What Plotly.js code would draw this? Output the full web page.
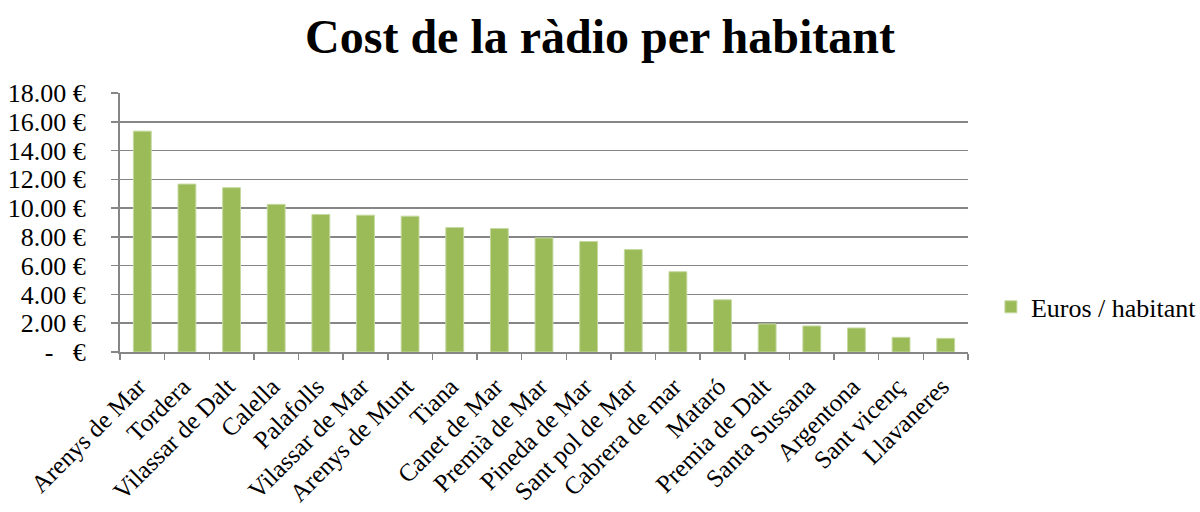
<!DOCTYPE html>
<html>
<head>
<meta charset="utf-8">
<script src="https://cdn.plot.ly/plotly-3.0.1.min.js"></script>
<style>html,body{margin:0;padding:0;background:#fff;}#chart{width:1200px;height:512px;}</style>
</head>
<body>
<div id="chart"></div>
<script>
const categories = ["Arenys de Mar","Tordera","Vilassar de Dalt","Calella","Palafolls","Vilassar de Mar","Arenys de Munt","Tiana","Canet de Mar","Premià de Mar","Pineda de Mar","Sant pol de Mar","Cabrera de mar","Mataró","Premia de Dalt","Santa Sussana","Argentona","Sant vicenç","Llavaneres"];
const eurosPerHabitant = [15.35,11.67,11.42,10.26,9.56,9.51,9.44,8.65,8.58,7.93,7.68,7.12,5.58,3.63,1.95,1.81,1.67,1.02,0.95];
const yTickVals = [0,2,4,6,8,10,12,14,16,18];
const yTickText = ["-\u00a0\u00a0\u00a0€","2.00 €","4.00 €","6.00 €","8.00 €","10.00 €","12.00 €","14.00 €","16.00 €","18.00 €"];

const font = "Liberation Serif, Times New Roman, serif";
const trace = {
  type: 'bar',
  x: categories,
  y: eurosPerHabitant,
  name: 'Euros / habitant',
  marker: {color: '#9BBB59', line: {color: '#c5d9a0', width: 1}},
  hoverinfo: 'x+y'
};
const layout = {
  width: 1200, height: 512,
  paper_bgcolor: '#fff', plot_bgcolor: '#fff',
  margin: {l: 120, r: 232, t: 93, b: 160, autoexpand: false},
  title: {text: '<b>Cost de la ràdio per habitant</b>', font: {family: font, size: 48, color: '#000'}, x: 0.5, xanchor: 'center', y: 0.93, yanchor: 'middle'},
  bargap: 0.6,
  showlegend: true,
  legend: {x: 1.027, xanchor: 'left', y: 0.174, yanchor: 'middle', font: {family: font, size: 26, color: '#000'}, itemwidth: 30, bgcolor: 'rgba(0,0,0,0)'},
  xaxis: {
    type: 'category',
    tickangle: -45,
    tickfont: {family: font, size: 25, color: '#000'},
    ticklabelstandoff: 8,
    ticklabelshift: -4,
    showline: true, linecolor: '#868686', linewidth: 2,
    ticks: 'outside', tickson: 'boundaries', ticklen: 6, tickcolor: '#868686', tickwidth: 1.5,
    showgrid: false
  },
  yaxis: {
    range: [0, 18],
    tickvals: yTickVals, ticktext: yTickText,
    tickfont: {family: font, size: 26, color: '#000'},
    ticklabelstandoff: 20,
    showline: true, linecolor: '#868686', linewidth: 2,
    ticks: 'outside', ticklen: 7, tickcolor: '#868686', tickwidth: 1.5,
    showgrid: true, gridcolor: '#868686', gridwidth: 1.5,
    zeroline: false, fixedrange: true
  }
};
Plotly.newPlot('chart', [trace], layout, {displayModeBar: false, staticPlot: true});
</script>
</body>
</html>
